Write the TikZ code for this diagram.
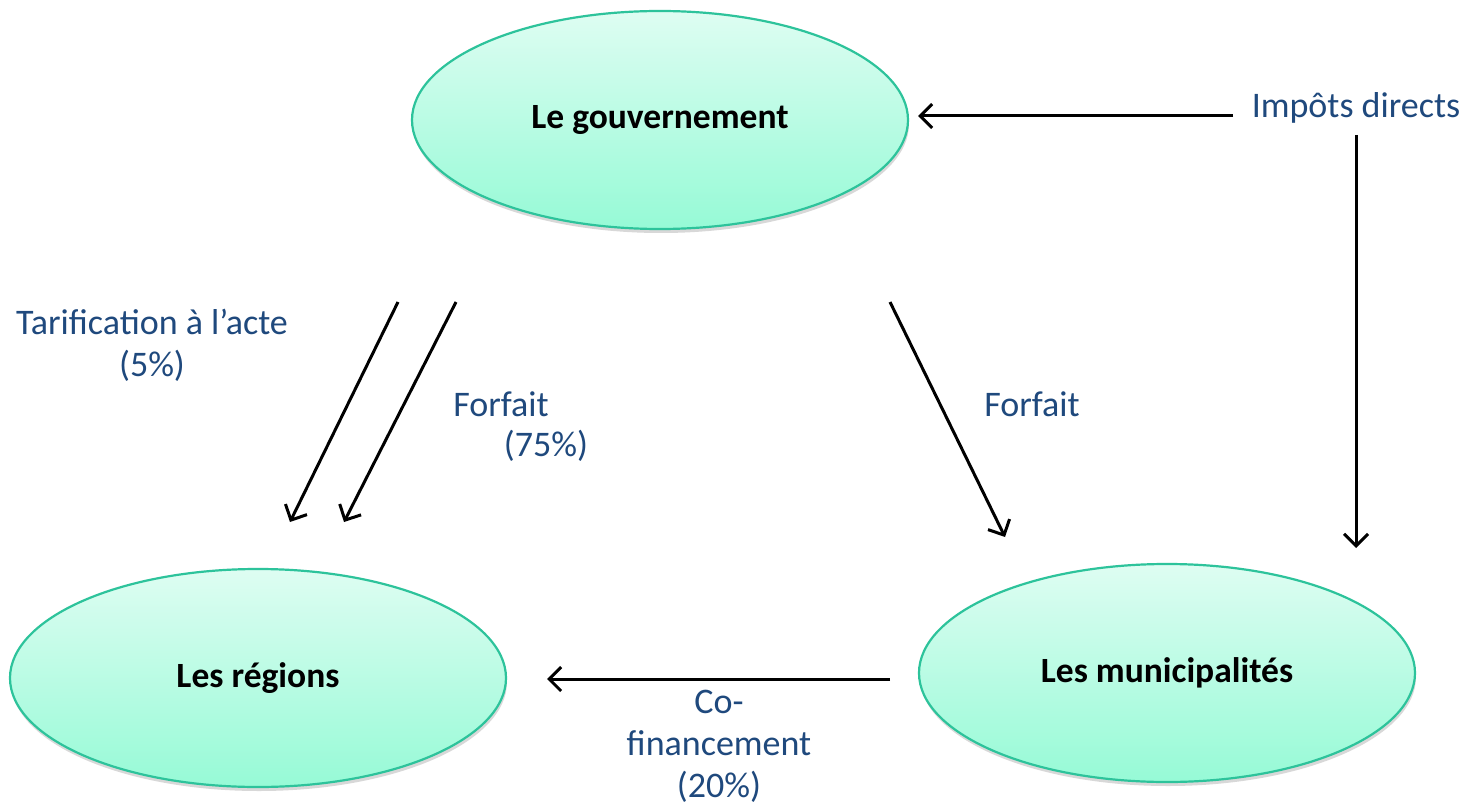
\documentclass[tikz,border=0pt]{standalone}
\usepackage{fontspec}
\setmainfont{Carlito}
\usetikzlibrary{arrows.meta,shadows,shapes.geometric}
\definecolor{lblue}{RGB}{31,73,125}
\definecolor{etop}{RGB}{222,253,242}
\definecolor{ebot}{RGB}{150,250,214}
\definecolor{eborder}{RGB}{45,195,155}
\tikzset{
  ell/.style={ellipse, draw=eborder, line width=2.2pt, top color=etop, bottom color=ebot,
    minimum width=496pt, minimum height=218pt, inner sep=0pt,
    drop shadow={shadow xshift=1pt, shadow yshift=-4pt, fill=black!25, opacity=0.6},
    font=\fontsize{35.5}{42}\selectfont\bfseries},
  lbl/.style={text=lblue, font=\fontsize{36}{42}\selectfont, align=center, inner sep=0pt},
  arr/.style={-{Straight Barb[length=12pt,width=24pt,line width=3pt]}, line width=3pt, black}
}
\begin{document}
\begin{tikzpicture}[x=1pt,y=-1pt]
\useasboundingbox[fill=white] (0,0) rectangle (1475,805);
\node[ell] (gov) at (660,120) {Le gouvernement};
\node[ell] (reg) at (258,678) {Les régions};
\node[ell] (mun) at (1167,673) {Les municipalités};

\node[lbl] (imp) at (1356,108) {Impôts directs};
\node[lbl] (tar) at (152,345) {Tarification à l’acte\\(5\%)};
\node[lbl] (f75a) at (501,404) {Forfait};
\node[lbl] (f75b) at (546,446) {(75\%)};
\node[lbl] (fm) at (1032,404) {Forfait};
\node[lbl] (cof) at (719,746) {Co-\\financement\\(20\%)};

\coordinate (i1) at (1233,116);
\coordinate (i2) at (918,116);
\coordinate (v1) at (1356,135);
\coordinate (v2) at (1356,548);
\coordinate (a1) at (398,302);
\coordinate (a2) at (290,522);
\coordinate (b1) at (456,302);
\coordinate (b2) at (344,522);
\coordinate (c1) at (890,302);
\coordinate (c2) at (1005,537);
\coordinate (d1) at (890,679);
\coordinate (d2) at (547,679);

\draw[arr] (i1) -- (i2);
\draw[arr] (v1) -- (v2);
\draw[arr] (a1) -- (a2);
\draw[arr] (b1) -- (b2);
\draw[arr] (c1) -- (c2);
\draw[arr] (d1) -- (d2);
\end{tikzpicture}
\end{document}
